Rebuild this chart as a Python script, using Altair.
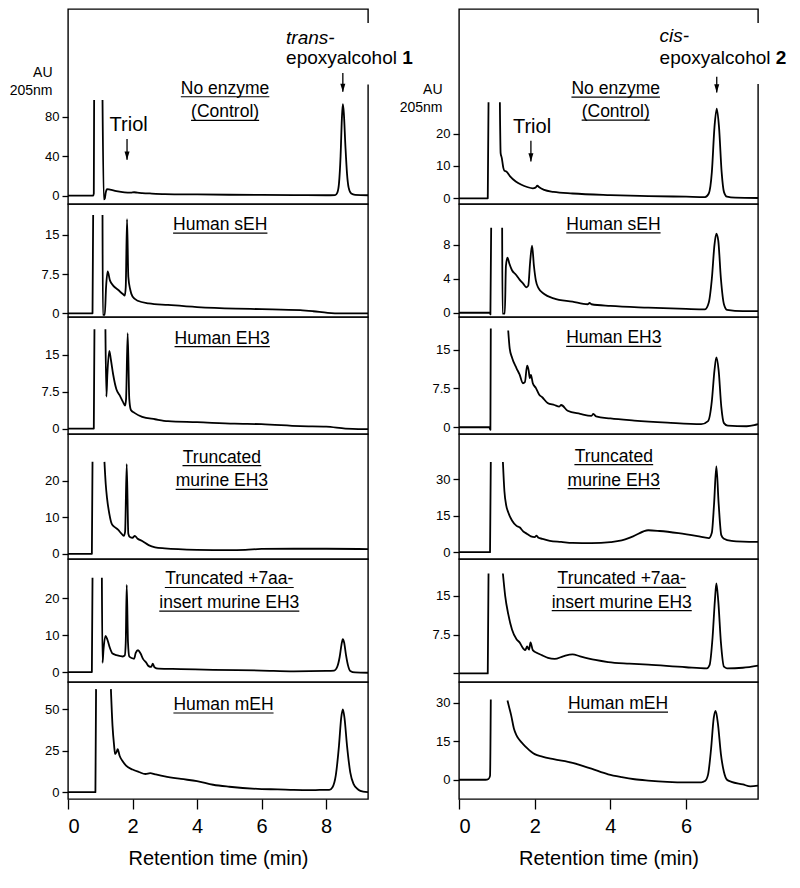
import altair as alt
import pandas as pd

FONT = "Liberation Sans"
INK = "black"

# ---------------- data (retention time in min, absorbance in AU) ----------------
XMAX_L, XMAX_R = 9.3, 7.9

# Left column: trans-epoxyalcohol 1 (None = signal off scale / line break)
L1_t = [0, 0.78, 0.80, 0.81, None, 1.07, 1.11, 1.14, 1.17, 1.21, 1.30, 1.50, 1.75, 1.95, 2.05, 2.15, 2.30, 2.60, 3.00, 4.00, 5.00, 6.00, 7.00, 8.00, 8.28, 8.35, 8.40, 8.45, 8.49, 8.52, 8.55, 8.60, 8.65, 8.70, 8.78, 8.90, 9.30]
L1_y = [0, 0, 2, 97, None, 97, -4, -3, 3, 6.5, 6, 4.5, 3.2, 2.9, 3.3, 2.9, 2.5, 2.0, 1.5, 1.1, 0.8, 0.6, 0.5, 0.3, 0.5, 3, 12, 40, 78, 92.7, 84, 50, 22, 8, 2, 0.6, 0.3]

L2_t = [0, 0.76, 0.78, None, 1.07, 1.08, 1.14, 1.18, 1.23, 1.30, 1.40, 1.55, 1.70, 1.76, 1.79, 1.83, 1.87, 1.93, 2.00, 2.16, 2.50, 3.10, 4.00, 5.20, 6.00, 7.20, 7.60, 8.05, 8.50, 9.30]
L2_y = [0, 0, 18.8, None, 18.8, -0.3, -0.3, 5, 8.0, 6.3, 5.3, 4.5, 3.7, 3.4, 5, 18.0, 7, 4.5, 3.2, 2.4, 1.9, 1.6, 1.2, 0.9, 0.8, 0.6, 0.4, 0.1, 0, 0]

L3_t = [0, 0.80, 0.82, None, 1.16, 1.19, 1.22, 1.28, 1.33, 1.40, 1.50, 1.60, 1.70, 1.77, 1.80, 1.85, 1.90, 1.95, 2.06, 2.30, 2.70, 3.10, 4.00, 5.16, 6.00, 7.20, 8.00, 8.60, 9.00, 9.30]
L3_y = [0, 0, 20.2, None, 20.2, 6.5, 11, 15.8, 14, 11, 8, 6.8, 5.5, 4.7, 6, 19.4, 6, 3.8, 3.2, 2.4, 1.9, 1.5, 1.3, 1.0, 0.9, 0.5, 0.4, 0.0, -0.1, -0.1]

L4_t = [0, 0.74, 0.76, None, 1.13, 1.17, 1.21, 1.28, 1.36, 1.45, 1.55, 1.65, 1.73, 1.77, 1.82, 1.87, 1.92, 2.00, 2.07, 2.15, 2.30, 2.50, 2.70, 3.00, 4.00, 5.00, 5.50, 6.00, 7.00, 8.00, 9.30]
L4_y = [0, 0, 25.1, None, 25.1, 19, 15.2, 11, 8.1, 7.3, 6.6, 5.6, 4.9, 6, 24.5, 5.5, 4.6, 4.4, 4.9, 4.2, 3.5, 2.4, 1.8, 1.5, 1.1, 1.0, 1.1, 1.35, 1.4, 1.4, 1.3]

L5_t = [0, 0.74, 0.76, None, 1.05, 1.07, 1.10, 1.16, 1.22, 1.30, 1.38, 1.50, 1.60, 1.70, 1.76, 1.79, 1.82, 1.86, 1.90, 1.97, 2.05, 2.10, 2.17, 2.25, 2.33, 2.42, 2.50, 2.58, 2.63, 2.68, 2.80, 3.50, 4.50, 6.00, 7.00, 8.00, 8.25, 8.35, 8.42, 8.48, 8.52, 8.56, 8.62, 8.68, 8.75, 8.90, 9.30]
L5_y = [0, 0, 25.5, None, 25.5, 2.5, 6, 9.8, 8.8, 6.5, 5, 4.6, 4.4, 4.2, 4.5, 8, 23.6, 8, 4.2, 3.8, 3.6, 5.2, 5.9, 5, 3.5, 2.6, 1.6, 1.4, 2.3, 1.3, 0.9, 0.8, 0.6, 0.4, 0.2, 0.3, 0.4, 1.5, 4, 7.5, 8.9, 8, 4.5, 1.8, 0.3, -0.1, -0.2]

L6_t = [0, 0.85, 0.87, None, 1.33, 1.38, 1.43, 1.46, 1.50, 1.54, 1.60, 1.70, 1.80, 2.00, 2.20, 2.40, 2.55, 2.70, 3.00, 3.50, 4.00, 4.50, 5.00, 6.00, 6.50, 7.00, 7.50, 7.80, 8.10, 8.20, 8.30, 8.40, 8.47, 8.52, 8.57, 8.65, 8.75, 8.85, 9.00, 9.15, 9.30]
L6_y = [0, 0, 62.2, None, 62.2, 40, 28, 23, 24, 26, 22, 18.5, 16, 13.7, 12.2, 11, 11.5, 10.8, 9.5, 8, 6.7, 4.5, 3.3, 1.9, 1.7, 1.35, 1.2, 1.35, 1.4, 3, 10, 28, 45, 50, 45, 28, 12, 5, 1.5, 0.3, 0]

# Right column: cis-epoxyalcohol 2
R1_t = [0, 0.76, 0.78, None, 1.08, 1.10, 1.13, 1.17, 1.20, 1.25, 1.35, 1.50, 1.65, 1.80, 1.95, 2.02, 2.07, 2.12, 2.25, 2.50, 3.00, 4.00, 5.00, 6.00, 6.50, 6.60, 6.68, 6.75, 6.81, 6.87, 6.94, 7.00, 7.08, 7.30, 7.90]
R1_y = [0, 0, 29.7, None, 29.7, 14, 12.5, 9.5, 8.5, 8.3, 6.8, 5.2, 4.2, 3.5, 3.1, 3.3, 3.9, 3.4, 2.6, 2.0, 1.5, 1.0, 0.7, 0.5, 0.4, 1.5, 8, 22, 27.7, 22, 8, 2, 0.5, 0.2, 0.1]

R2_t = [0, 0.82, 0.83, 0.85, None, 1.14, 1.15, 1.21, 1.24, 1.28, 1.33, 1.40, 1.50, 1.60, 1.70, 1.78, 1.83, 1.88, 1.93, 1.98, 2.03, 2.10, 2.25, 2.50, 3.00, 3.40, 3.45, 3.50, 4.00, 5.00, 6.00, 6.50, 6.60, 6.68, 6.75, 6.80, 6.85, 6.92, 7.00, 7.08, 7.50, 7.90]
R2_y = [0, 0, -0.2, 10, None, 10, -0.1, -0.1, 5.5, 6.5, 5.8, 5.0, 4.5, 3.9, 3.4, 3.0, 3.2, 6, 7.9, 5.5, 3.8, 2.9, 2.2, 1.7, 1.3, 1.0, 1.15, 1.0, 0.8, 0.6, 0.45, 0.4, 1.2, 4, 8, 9.3, 8.5, 4, 1, 0.35, 0.2, 0.2]

R3_t = [0, 0.80, 0.83, 0.84, None, 1.30, 1.34, 1.40, 1.52, 1.60, 1.69, 1.74, 1.80, 1.84, 1.87, 1.90, 1.95, 2.03, 2.12, 2.20, 2.34, 2.52, 2.65, 2.70, 2.87, 3.20, 3.50, 3.55, 3.62, 4.00, 4.63, 5.50, 6.40, 6.58, 6.68, 6.75, 6.80, 6.86, 6.93, 7.00, 7.10, 7.60, 7.80, 7.90]
R3_y = [0, 0, -0.5, 19.1, None, 18.7, 15.2, 13.5, 11.4, 10.2, 8.5, 8.7, 11.9, 11, 9.5, 10.1, 8.5, 7.6, 6.3, 5.8, 4.7, 4.3, 4.0, 4.3, 3.2, 2.6, 2.2, 2.6, 2.1, 1.7, 1.3, 0.9, 0.6, 1.2, 5, 11, 13.5, 11, 4, 0.8, 0.3, 0.2, 0.4, 0.6]

R4_t = [0, 0.82, 0.84, None, 1.16, 1.20, 1.25, 1.30, 1.40, 1.52, 1.60, 1.70, 1.80, 1.90, 2.00, 2.05, 2.10, 2.20, 2.40, 2.70, 3.00, 3.50, 4.00, 4.30, 4.60, 5.00, 5.30, 5.80, 6.30, 6.60, 6.68, 6.74, 6.80, 6.86, 6.93, 7.00, 7.20, 7.50, 7.90]
R4_y = [0, 0, 37, None, 37, 25, 19, 16.4, 13, 10.8, 10.2, 8.5, 7.5, 6.5, 6.2, 6.8, 5.9, 5.5, 4.6, 4.2, 3.8, 3.7, 4.1, 4.8, 6.5, 9, 8.7, 7.8, 6.6, 5.8, 8, 20, 35.2, 20, 7, 5.5, 4.6, 4.3, 4.2]

R5_t = [0, 0.76, 0.78, None, 1.16, 1.22, 1.30, 1.40, 1.52, 1.60, 1.70, 1.75, 1.80, 1.85, 1.89, 1.95, 2.05, 2.20, 2.35, 2.53, 2.75, 3.00, 3.20, 3.60, 3.94, 4.50, 5.00, 6.00, 6.55, 6.62, 6.70, 6.76, 6.80, 6.85, 6.92, 7.00, 7.08, 7.50, 7.90]
R5_y = [0, 0, 19.3, None, 19.3, 15, 11.5, 8.5, 6.6, 6, 4.8, 4.5, 5.2, 4.6, 6.0, 4.5, 4.0, 3.5, 3.0, 2.8, 3.3, 3.7, 3.3, 2.6, 2.2, 1.9, 1.7, 1.2, 1.0, 1.6, 7, 14, 17.4, 14, 6, 1.3, 1.0, 1.1, 1.5]

R6_t = [0, 0.70, 0.78, 0.82, 0.84, None, 1.28, 1.33, 1.38, 1.45, 1.52, 1.60, 1.70, 1.80, 1.90, 2.00, 2.20, 2.50, 3.00, 3.50, 3.94, 4.30, 4.64, 5.00, 5.50, 6.00, 6.40, 6.50, 6.58, 6.66, 6.73, 6.78, 6.84, 6.92, 7.00, 7.08, 7.20, 7.50, 7.70, 7.90]
R6_y = [0, 0, 0.3, 1.5, 31.3, None, 30.9, 28, 25, 20, 17.3, 15.5, 13.8, 12.3, 11, 10, 9, 8, 6.6, 4.3, 2.1, 1.0, 0.2, -0.3, -0.8, -1.0, -1.0, -0.5, 2, 12, 24, 26.8, 22, 10, 3, 0, -0.8, -1.8, -2.6, -2.3]

PANEL_NAMES = [["No enzyme", "(Control)"], ["Human sEH"], ["Human EH3"],
               ["Truncated", "murine EH3"], ["Truncated +7aa-", "insert murine EH3"], ["Human mEH"]]

LAB_X_L = [4.87, 4.72, 4.78, 4.77, 5.0, 4.82]
LAB_Y_L = [[103.3, 79.3], [15.9], [17.3], [24.9, 18.4], [23.7, 17.3], [49.6]]
LAB_X_R = [4.14, 4.08, 4.09, 4.09, 4.3, 4.2]
LAB_Y_R = [[32.2, 25.1], [9.75], [16.2], [37.2, 27.3], [17.2, 12.7], [27.5]]

YDOM_L = [[-8.6, 189.3], [-0.7, 20.9], [-1.1, 22.7], [-1.4, 32.7], [-2.7, 30.6], [-4.1, 66.5]]
YDOM_R = [[-1.75, 58.5], [-0.5, 12.8], [-1.3, 21.3], [-2.8, 48.5], [-1.65, 22.1], [-7.5, 38.1]]
YTICKS_L = [[0, 40, 80], [0, 7.5, 15], [0, 7.5, 15], [0, 10, 20], [0, 10, 20], [0, 25, 50]]
YTICKS_R = [[0, 10, 20], [0, 4, 8], [0, 7.5, 15], [0, 15, 30], [0, 7.5, 15], [0, 15, 30]]
XTICKS_L = [0, 2, 4, 6, 8]
XTICKS_R = [0, 2, 4, 6]

HEIGHTS = [195, 113, 117, 125, 123, 117]

TRACES_L = [(L1_t, L1_y), (L2_t, L2_y), (L3_t, L3_y), (L4_t, L4_y), (L5_t, L5_y), (L6_t, L6_y)]
TRACES_R = [(R1_t, R1_y), (R2_t, R2_y), (R3_t, R3_y), (R4_t, R4_y), (R5_t, R5_y), (R6_t, R6_y)]

ANNOT = {
    "L": dict(triol=(1.88, 65.0), triol_arrow=(1.83, 57.4, 36.3),
              iso=("trans-", 6.76, 153.9, 133.8, "1"), iso_arrow=(8.52, 124.3, 105.2),
              mask=(9.1, 9.6, 112.8, 175.0)),
    "R": dict(triol=(1.93, 20.2), triol_arrow=(1.90, 17.8, 11.4),
              iso=("cis-", 5.30, 48.4, 41.6, "2"), iso_arrow=(6.81, 37.6, 32.7),
              mask=(7.7, 8.2, 35.3, 54.2)),
}

# ---------------- helpers ----------------
AW = {' ': 278, '(': 333, ')': 333, '+': 584, '-': 333, 'a': 556, 'c': 500, 'd': 556, 'e': 556,
      'h': 556, 'i': 222, 'l': 222, 'm': 833, 'n': 556, 'o': 556, 'r': 333, 's': 500, 't': 278,
      'u': 556, 'y': 500, 'z': 500, 'x': 500, 'p': 556, 'E': 667, 'H': 722, 'N': 722, 'C': 722,
      'T': 611}


def text_width(s, size):
    return sum(AW.get(ch, 556) for ch in s) / 1000.0 * size


def trace_df(ts, ys):
    assert len(ts) == len(ys)
    rows, seg = [], 0
    for i, (t, y) in enumerate(zip(ts, ys)):
        if t is None:
            seg += 1
            continue
        rows.append({"t": t, "v": y, "seg": seg, "i": i})
    return pd.DataFrame(rows)


LABEL_SIZE = 17.5
ISO_SIZE = 19

COLS = {
    "L": dict(xmax=XMAX_L, width=300, traces=TRACES_L, ydom=YDOM_L, yticks=YTICKS_L,
              labx=LAB_X_L, laby=LAB_Y_L, xticks=XTICKS_L, title_x=-16, title_y=67),
    "R": dict(xmax=XMAX_R, width=299, traces=TRACES_R, ydom=YDOM_R, yticks=YTICKS_R,
              labx=LAB_X_R, laby=LAB_Y_R, xticks=XTICKS_R, title_x=-17, title_y=84),
}


def panel(c, k):
    cfg = COLS[c]
    W, H = cfg["width"], HEIGHTS[k]
    lo, hi = cfg["ydom"][k]
    ppm = W / cfg["xmax"]

    if k == 5:
        xaxis = alt.Axis(values=cfg["xticks"], format=".0f", title="Retention time (min)",
                         tickSize=10, tickWidth=1.3, labelFontSize=20, titleFontSize=20,
                         titleFontWeight="normal", labelPadding=7, titlePadding=12,
                         domain=False, grid=False, tickColor=INK, labelColor=INK,
                         titleColor=INK, labelFont=FONT, titleFont=FONT)
    else:
        xaxis = None

    yargs = dict(values=cfg["yticks"][k], format=".1~f", tickSize=6, tickWidth=1.3,
                 labelFontSize=13, labelPadding=3, domain=False, grid=False,
                 tickColor=INK, labelColor=INK, labelFont=FONT)
    if c == "R" and k == 4:
        yargs["labelExpr"] = "datum.value == 0 ? '' : datum.label"
    if k == 0:
        yargs.update(title=["AU", "205nm"], titleAngle=0, titleAlign="right",
                     titleBaseline="alphabetic", titleX=cfg["title_x"], titleY=cfg["title_y"],
                     titleFontSize=14, titleFontWeight="normal", titleFont=FONT,
                     titleColor=INK, titleLineHeight=18)
    else:
        yargs["title"] = None

    X = alt.X("t:Q", scale=alt.Scale(domain=[0, cfg["xmax"]], nice=False, zero=False), axis=xaxis)
    Y = alt.Y("v:Q", scale=alt.Scale(domain=[lo, hi], nice=False, zero=False), axis=alt.Axis(**yargs))

    layers = []

    if k == 0:
        a = ANNOT[c]
        m = a["mask"]
        mask_df = pd.DataFrame([{"t": m[0], "t2": m[1], "v": m[2], "v2": m[3]}])
        layers.append(alt.Chart(mask_df).mark_rect(color="white").encode(
            X, Y, x2="t2:Q", y2="v2:Q"))

    ts, ys = cfg["traces"][k]
    layers.append(alt.Chart(trace_df(ts, ys)).mark_line(
        color=INK, strokeWidth=1.8, strokeJoin="round", interpolate="monotone"
    ).encode(X, Y, detail="seg:N", order="i:Q"))

    # panel labels (underlined)
    lab_rows, ul_rows = [], []
    for j, txt in enumerate(PANEL_NAMES[k]):
        t = cfg["labx"][k]
        v = cfg["laby"][k][j]
        hw = text_width(txt, LABEL_SIZE) / 2 / ppm
        lab_rows.append({"t": t, "v": v, "txt": txt})
        ul_rows.append({"t": t - hw, "t2": t + hw, "v": v})
    layers.append(alt.Chart(pd.DataFrame(lab_rows)).mark_text(
        align="center", baseline="alphabetic", fontSize=LABEL_SIZE, font=FONT, color=INK
    ).encode(X, Y, text="txt:N"))
    layers.append(alt.Chart(pd.DataFrame(ul_rows)).mark_rule(
        color=INK, strokeWidth=1.2, yOffset=3).encode(X, Y, x2="t2:Q"))

    if k == 0:
        a = ANNOT[c]
        tr = pd.DataFrame([{"t": a["triol"][0], "v": a["triol"][1], "txt": "Triol"}])
        layers.append(alt.Chart(tr).mark_text(
            align="center", baseline="alphabetic", fontSize=20, font=FONT, color=INK
        ).encode(X, Y, text="txt:N"))
        arrows = pd.DataFrame([
            {"t": a["triol_arrow"][0], "v": a["triol_arrow"][1], "v2": a["triol_arrow"][2]},
            {"t": a["iso_arrow"][0], "v": a["iso_arrow"][1], "v2": a["iso_arrow"][2]},
        ])
        layers.append(alt.Chart(arrows).mark_rule(color=INK, strokeWidth=1.3).encode(
            X, Y, y2="v2:Q"))
        heads = pd.DataFrame([
            {"t": a["triol_arrow"][0], "v": a["triol_arrow"][2]},
            {"t": a["iso_arrow"][0], "v": a["iso_arrow"][2]},
        ])
        layers.append(alt.Chart(heads).mark_point(
            shape="M-0.6,-1L0.6,-1L0,1Z", size=70, filled=True, color=INK, opacity=1,
            yOffset=-4).encode(X, Y))
        pre, tx, v_pre, v_main, num = a["iso"]
        layers.append(alt.Chart(pd.DataFrame([{"t": tx, "v": v_pre, "txt": pre}])).mark_text(
            align="left", baseline="alphabetic", fontSize=ISO_SIZE, font=FONT,
            fontStyle="italic", color=INK).encode(X, Y, text="txt:N"))
        main_txt = "epoxyalcohol "
        layers.append(alt.Chart(pd.DataFrame([{"t": tx, "v": v_main, "txt": main_txt}])).mark_text(
            align="left", baseline="alphabetic", fontSize=ISO_SIZE, font=FONT, color=INK
        ).encode(X, Y, text="txt:N"))
        layers.append(alt.Chart(pd.DataFrame([{"t": tx, "v": v_main, "txt": num}])).mark_text(
            align="left", baseline="alphabetic", fontSize=ISO_SIZE, font=FONT,
            fontWeight="bold", color=INK, dx=text_width(main_txt, ISO_SIZE)
        ).encode(X, Y, text="txt:N"))

    return alt.layer(*layers).properties(width=W, height=H)


charts = []
for k in range(6):
    charts.append(panel("L", k))
    charts.append(panel("R", k))

chart = alt.concat(
    *charts, columns=2, spacing={"row": 0, "column": 91}, bounds="flush", align="each"
).properties(padding=0).configure(font=FONT).configure_view(stroke=INK, strokeWidth=1.4)

chart.save("out.html", embed_options={"renderer": "svg", "actions": False})
